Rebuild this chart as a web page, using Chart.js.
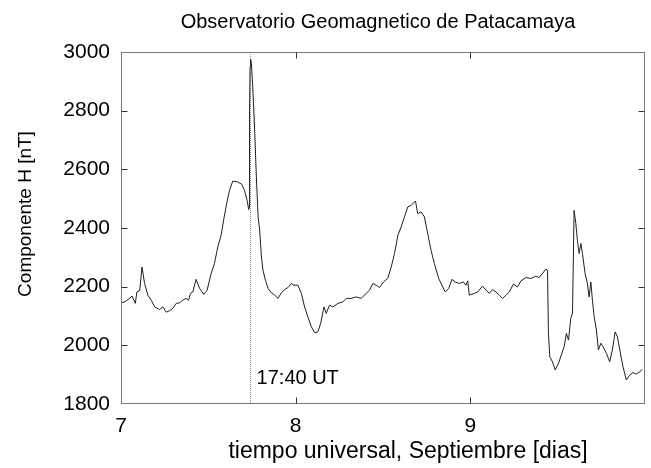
<!DOCTYPE html>
<html>
<head>
<meta charset="utf-8">
<script src="https://cdn.jsdelivr.net/npm/chart.js@4.4.1/dist/chart.umd.min.js"></script>
<style>
  html, body { margin: 0; padding: 0; background: #ffffff; }
  #wrap { width: 651px; height: 468px; position: relative; }
</style>
</head>
<body>
<div id="wrap"><canvas id="c" width="651" height="468"></canvas></div>
<script>
// ---- data ----
const chartTitle = "Observatorio Geomagnetico de Patacamaya";
const xAxisTitle = "tiempo universal, Septiembre [dias]";
const yAxisTitle = "Componente H [nT]";
const eventLabel = "17:40 UT";
const eventDay = 7 + (17 + 40 / 60) / 24;

const xTickValues = [7, 8, 9];
const yTickValues = [1800, 2000, 2200, 2400, 2600, 2800, 3000];

const days = [
  7.002, 7.021, 7.040, 7.063, 7.082, 7.091, 7.107, 7.120, 7.135, 7.154,
  7.173, 7.193, 7.221, 7.240, 7.259, 7.278, 7.297, 7.316, 7.335, 7.354,
  7.373, 7.387, 7.398, 7.411, 7.430, 7.450, 7.474, 7.493, 7.516, 7.535,
  7.554, 7.573, 7.589, 7.607, 7.621, 7.640, 7.669, 7.691, 7.707, 7.722,
  7.731, 7.733, 7.736, 7.739, 7.742, 7.747, 7.756, 7.766, 7.775, 7.785,
  7.794, 7.804, 7.813, 7.827, 7.842, 7.861, 7.880, 7.899, 7.918, 7.937,
  7.956, 7.975, 7.990, 8.013, 8.033, 8.051, 8.070, 8.090, 8.109, 8.127,
  8.143, 8.162, 8.175, 8.194, 8.213, 8.242, 8.270, 8.290, 8.318, 8.347,
  8.375, 8.404, 8.423, 8.442, 8.461, 8.480, 8.503, 8.527, 8.547, 8.566,
  8.585, 8.604, 8.623, 8.642, 8.661, 8.686, 8.699, 8.718, 8.737, 8.756,
  8.775, 8.794, 8.819, 8.842, 8.857, 8.876, 8.895, 8.914, 8.937, 8.960,
  8.975, 8.985, 8.994, 9.023, 9.042, 9.070, 9.090, 9.109, 9.127, 9.147,
  9.166, 9.185, 9.204, 9.223, 9.247, 9.270, 9.290, 9.318, 9.347, 9.375,
  9.394, 9.413, 9.433, 9.442, 9.447, 9.455, 9.470, 9.486, 9.505, 9.524,
  9.537, 9.550, 9.562, 9.575, 9.585, 9.590, 9.594, 9.604, 9.613, 9.623,
  9.633, 9.642, 9.657, 9.670, 9.680, 9.690, 9.699, 9.709, 9.722, 9.733,
  9.747, 9.760, 9.779, 9.798, 9.813, 9.829, 9.842, 9.861, 9.874, 9.893,
  9.913, 9.931, 9.950, 9.970, 9.985
];

const hValues = [
  2145, 2148, 2156, 2168, 2143, 2182, 2186, 2267, 2211, 2171,
  2154, 2131, 2122, 2131, 2113, 2118, 2126, 2143, 2145, 2154,
  2160, 2154, 2177, 2182, 2225, 2194, 2174, 2188, 2245, 2279,
  2335, 2375, 2432, 2489, 2528, 2560, 2557, 2549, 2528, 2494,
  2463, 2470, 2800, 2950, 2975, 2960, 2858, 2721, 2574, 2438,
  2392, 2301, 2256, 2222, 2194, 2179, 2171, 2160, 2179, 2190,
  2197, 2211, 2205, 2205, 2177, 2131, 2097, 2063, 2043, 2046,
  2075, 2131, 2109, 2137, 2131, 2143, 2148, 2160, 2160, 2165,
  2160, 2177, 2188, 2211, 2205, 2197, 2216, 2228, 2267, 2313,
  2375, 2404, 2438, 2472, 2477, 2492, 2449, 2455, 2438, 2381,
  2324, 2279, 2228, 2199, 2182, 2194, 2225, 2216, 2211, 2216,
  2205, 2220, 2171, 2177, 2182, 2202, 2188, 2177, 2190, 2182,
  2171, 2160, 2171, 2182, 2209, 2199, 2220, 2231, 2228, 2236,
  2231, 2245, 2260, 2256, 2041, 1961, 1944, 1916, 1939, 1973,
  1995, 2041, 2018, 2092, 2109, 2301, 2460, 2415, 2358, 2313,
  2347, 2313, 2245, 2211, 2165, 2216, 2154, 2097, 2052, 1984,
  2007, 1995, 1973, 1944, 1984, 2046, 2029, 1967, 1927, 1882,
  1899, 1907, 1902, 1910, 1918
];

const FONT = "'Liberation Sans', Arial, Helvetica, sans-serif";

const framePlugin = {
  id: 'frame',
  beforeDatasetsDraw(chart) {
    const { ctx, chartArea: a, scales: { x } } = chart;
    const ex = Math.round(x.getPixelForValue(eventDay)) + 0.5;
    ctx.save();
    ctx.strokeStyle = '#8a8a8a';
    ctx.lineWidth = 1;
    ctx.setLineDash([1, 1]);
    ctx.beginPath();
    ctx.moveTo(ex, a.top);
    ctx.lineTo(ex, a.bottom);
    ctx.stroke();
    ctx.restore();
  },
  afterDatasetsDraw(chart) {
    const { ctx, chartArea: a, scales: { x, y } } = chart;
    const L = Math.round(a.left) + 0.5, R = Math.round(a.right) - 0.5;
    const T = Math.round(a.top) + 0.5, B = Math.round(a.bottom) - 0.5;
    ctx.save();
    // box
    ctx.strokeStyle = '#7a7a7a';
    ctx.lineWidth = 1;
    ctx.strokeRect(L, T, R - L, B - T);
    // inward ticks on all sides
    ctx.strokeStyle = '#333333';
    const tl = 6;
    ctx.beginPath();
    yTickValues.forEach(v => {
      const py = Math.round(y.getPixelForValue(v)) + 0.5;
      if (py > T + 1 && py < B - 1) {
        ctx.moveTo(L, py); ctx.lineTo(L + tl, py);
        ctx.moveTo(R, py); ctx.lineTo(R - tl, py);
      }
    });
    xTickValues.forEach(v => {
      const px = Math.round(x.getPixelForValue(v)) + 0.5;
      if (px > L + 1 && px < R - 1) {
        ctx.moveTo(px, B); ctx.lineTo(px, B - tl);
        ctx.moveTo(px, T); ctx.lineTo(px, T + tl);
      }
    });
    ctx.stroke();

    // texts
    ctx.fillStyle = '#000000';
    ctx.textBaseline = 'alphabetic';
    // title
    ctx.font = '20px ' + FONT;
    ctx.textAlign = 'center';
    ctx.fillText(chartTitle, 378, 28);
    // event label
    ctx.font = '20px ' + FONT;
    ctx.textAlign = 'left';
    ctx.fillText(eventLabel, x.getPixelForValue(eventDay) + 7, 384);
    // x axis title
    ctx.font = '23px ' + FONT;
    ctx.textAlign = 'center';
    ctx.fillText(xAxisTitle, 408, 458);
    // y axis title
    ctx.save();
    ctx.translate(31, 214);
    ctx.rotate(-Math.PI / 2);
    ctx.font = '19px ' + FONT;
    ctx.textAlign = 'center';
    ctx.fillText(yAxisTitle, 0, 0);
    ctx.restore();
    ctx.restore();
  }
};

const points = days.map((d, i) => ({ x: d, y: hValues[i] }));

new Chart(document.getElementById('c'), {
  type: 'line',
  data: {
    datasets: [{
      label: 'H',
      data: points,
      borderColor: '#1e1e1e',
      borderWidth: 1,
      pointRadius: 0,
      fill: false,
      tension: 0
    }]
  },
  options: {
    responsive: false,
    animation: false,
    events: [],
    layout: { padding: { top: 52, right: 6, left: 0, bottom: 0 } },
    plugins: {
      legend: { display: false },
      title: { display: false },
      tooltip: { enabled: false }
    },
    scales: {
      x: {
        type: 'linear',
        min: 7,
        max: 10,
        grid: { display: false, drawTicks: false },
        border: { display: false },
        ticks: {
          color: '#000',
          font: { family: FONT, size: 21 },
          padding: 10,
          maxRotation: 0,
          callback: (v) => String(v)
        },
        afterBuildTicks: (s) => { s.ticks = xTickValues.map(v => ({ value: v })); },
        afterFit: (s) => { s.height = 64; }
      },
      y: {
        type: 'linear',
        min: 1800,
        max: 3000,
        grid: { display: false, drawTicks: false },
        border: { display: false },
        ticks: {
          color: '#000',
          font: { family: FONT, size: 21 },
          padding: 11,
          callback: (v) => String(v)
        },
        afterBuildTicks: (s) => { s.ticks = yTickValues.map(v => ({ value: v })); },
        afterFit: (s) => { s.width = 121; }
      }
    }
  },
  plugins: [framePlugin]
});
</script>
</body>
</html>
